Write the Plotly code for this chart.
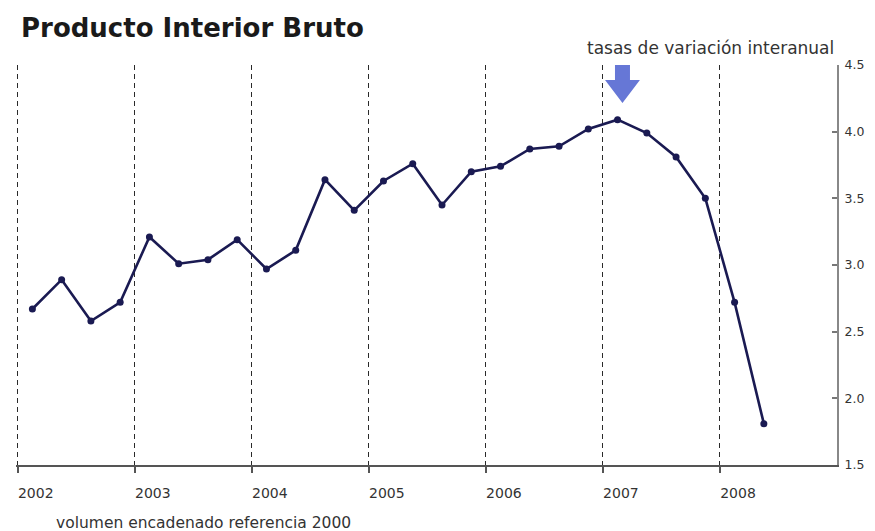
import plotly.graph_objects as go

# Data: quarterly year-on-year growth of GDP (%), 2002 T1 .. 2008 T2
periodos = [
    "2002-T1", "2002-T2", "2002-T3", "2002-T4",
    "2003-T1", "2003-T2", "2003-T3", "2003-T4",
    "2004-T1", "2004-T2", "2004-T3", "2004-T4",
    "2005-T1", "2005-T2", "2005-T3", "2005-T4",
    "2006-T1", "2006-T2", "2006-T3", "2006-T4",
    "2007-T1", "2007-T2", "2007-T3", "2007-T4",
    "2008-T1", "2008-T2",
]
pib = [
    2.67, 2.89, 2.58, 2.72,
    3.21, 3.01, 3.04, 3.19,
    2.97, 3.11, 3.64, 3.41,
    3.63, 3.76, 3.45, 3.70,
    3.74, 3.87, 3.89, 4.02,
    4.09, 3.99, 3.81, 3.50,
    2.72, 1.81,
]
anios = [2002, 2003, 2004, 2005, 2006, 2007, 2008]
etiquetas_anios = [str(a) for a in anios]
y_ticks = [1.5, 2.0, 2.5, 3.0, 3.5, 4.0, 4.5]

# quarter position inside each year (centre of quarter)
x_vals = [int(p[:4]) + (int(p[-1]) - 0.5) / 4 for p in periodos]

FONT = "DejaVu Sans"
LINE_COLOR = "#1a1a52"

# page body has an 8px margin: figure is offset by (8, 8)
OFF = 8
PL, PT, PR, PB = 16, 65, 837, 465   # target plot area in page pixels

fig = go.Figure()
fig.add_trace(go.Scatter(
    x=x_vals, y=pib, mode="lines+markers",
    line=dict(color=LINE_COLOR, width=2.6),
    marker=dict(color=LINE_COLOR, size=7),
    hoverinfo="skip", showlegend=False,
))

# Blue down arrow above the peak
cx, hw_s, hw_h = 2007.167, 0.064, 0.149
y_top, y_mid, y_tip = 4.515, 4.3875, 4.215
arrow_path = (
    f"M {cx-hw_s},{y_top} L {cx+hw_s},{y_top} L {cx+hw_s},{y_mid} "
    f"L {cx+hw_h},{y_mid} L {cx},{y_tip} L {cx-hw_h},{y_mid} "
    f"L {cx-hw_s},{y_mid} Z"
)
fig.add_shape(type="path", path=arrow_path, xref="x", yref="y",
              fillcolor="#6677d6", line=dict(width=0))

W = PR - PL
H = PB - PT


def px(xp):
    return (xp - PL) / W


def py(yp):
    return (PB - yp) / H


fig.add_annotation(
    text="<b>Producto Interior Bruto</b>", xref="paper", yref="paper",
    x=px(19), y=py(28), xanchor="left", yanchor="middle",
    showarrow=False, font=dict(family=FONT, size=26, color="#1a1a1a"),
)
fig.add_annotation(
    text="tasas de variación interanual", xref="paper", yref="paper",
    x=px(836), y=py(48), xanchor="right", yanchor="middle",
    showarrow=False, font=dict(family=FONT, size=17, color="#333333"),
)
fig.add_annotation(
    text="volumen encadenado referencia 2000", xref="paper", yref="paper",
    x=px(54), y=py(512), xanchor="left", yanchor="top",
    showarrow=False, font=dict(family=FONT, size=15.5, color="#333333"),
)

fig.update_layout(
    width=875 - OFF, height=531 - OFF,
    margin=dict(l=PL - OFF, r=875 - PR, t=PT - OFF, b=531 - PB),
    paper_bgcolor="white", plot_bgcolor="white",
    font=dict(family=FONT, color="#333333"),
    xaxis=dict(
        range=[2001.985, 2009], tickvals=anios, ticktext=etiquetas_anios,
        showgrid=True, gridcolor="#2a2a2a", gridwidth=1.4, griddash="5px,4px",
        showline=True, linecolor="#555555", linewidth=2,
        ticks="outside", ticklen=6, tickcolor="#555555", tickwidth=2,
        tickfont=dict(family=FONT, size=14, color="#333333"),
        ticklabelshift=18, ticklabelstandoff=8,
        zeroline=False, fixedrange=True, automargin=False,
    ),
    yaxis=dict(
        range=[1.5, 4.5], tickvals=y_ticks, tickformat=".1f", side="right",
        showgrid=False, showline=True, linecolor="#888888", linewidth=2,
        ticks="inside", ticklen=5, tickcolor="#777777", tickwidth=1.5,
        tickfont=dict(family=FONT, size=12.5, color="#333333"),
        ticklabelstandoff=3, zeroline=False, fixedrange=True,
        automargin=False,
    ),
)

fig.write_html("out.html")
